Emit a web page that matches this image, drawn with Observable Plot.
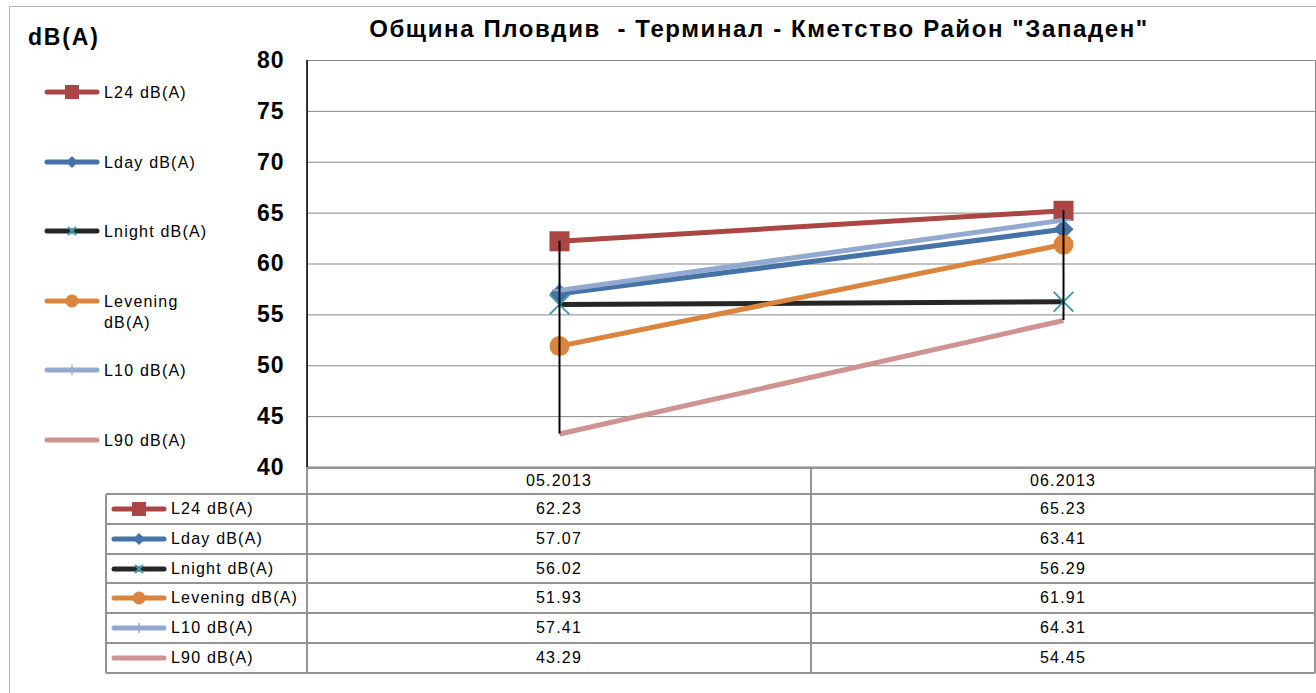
<!DOCTYPE html>
<html>
<head>
<meta charset="utf-8">
<script src="https://cdn.jsdelivr.net/npm/d3@7"></script>
<script src="https://cdn.jsdelivr.net/npm/@observablehq/plot@0.6"></script>
<style>
  body { margin: 0; background: #fff; }
  #wrap { position: relative; width: 1316px; height: 693px; overflow: hidden; font-family: Arial, "Liberation Sans", sans-serif; background: #fff; color: #000; }
  #wrap svg.plotsvg { position: absolute; left: 0; top: 0; }
  .abs { position: absolute; white-space: pre; }
</style>
</head>
<body>
<div id="wrap"></div>
<script>
// ---- data ----
const categories = ["05.2013", "06.2013"];
const seriesNames = ["L24 dB(A)", "Lday dB(A)", "Lnight dB(A)", "Levening dB(A)", "L10 dB(A)", "L90 dB(A)"];
const L24 = [62.23, 65.23];
const Lday = [57.07, 63.41];
const Lnight = [56.02, 56.29];
const Levening = [51.93, 61.91];
const L10 = [57.41, 64.31];
const L90 = [43.29, 54.45];
const yTicks = [40, 45, 50, 55, 60, 65, 70, 75, 80];
const titleText = "Община Пловдив  - Терминал - Кметство Район \"Западен\"";
const yTitle = "dB(A)";

// ---- styles ----
const seriesValues = [L24, Lday, Lnight, Levening, L10, L90];
const lineColors = ["#AA4643", "#4572A7", "#262626", "#DB843D", "#93A9CF", "#D19392"];
const markerColors = ["#AA4643", "#4572A7", "#4198AF", "#DB843D", "#93A9CF", null];
const markerSymbols = ["square", "diamond2", "times", "circle", "plus", null];
const markerR = [11.3, 9, 9, 10, 5, 0];

const rows = seriesNames.flatMap((s, i) => categories.map((c, j) => ({series: s, cat: c, value: seriesValues[i][j]})));
const hiLo = categories.map((c, j) => ({
  cat: c,
  hi: d3.max(seriesValues, v => v[j]),
  lo: d3.min(seriesValues, v => v[j])
}));

const marks = [
  Plot.ruleY(yTicks.slice(1), {stroke: "#878787", strokeWidth: 1}),
  Plot.frame({stroke: "#878787"}),
  Plot.ruleY([yTicks[0]], {stroke: "#000", strokeWidth: 1.5}),
  (index, scales, values, dims) => {
    const l = d3.create("svg:line")
      .attr("x1", dims.marginLeft).attr("x2", dims.marginLeft)
      .attr("y1", dims.marginTop).attr("y2", dims.height - dims.marginBottom)
      .attr("stroke", "#000").attr("stroke-width", 1.5);
    return l.node();
  },
  Plot.axisY({ticks: yTicks, tickSize: 0, tickPadding: 23, fontSize: 23, fontWeight: "bold", label: null})
];
seriesNames.forEach((s, i) => {
  const sub = rows.filter(d => d.series === s);
  marks.push(Plot.line(sub, {x: "cat", y: "value", stroke: lineColors[i], strokeWidth: 5, strokeLinecap: "butt"}));
  const sym = markerSymbols[i];
  if (sym) {
    const stroked = sym === "times" || sym === "plus";
    marks.push(Plot.dot(sub, stroked
      ? {x: "cat", y: "value", symbol: sym, r: markerR[i], stroke: markerColors[i], strokeWidth: 2, fill: "none"}
      : {x: "cat", y: "value", symbol: sym, r: markerR[i], fill: markerColors[i], stroke: "none"}));
  }
});
marks.push(Plot.ruleX(hiLo, {x: "cat", y1: "lo", y2: "hi", stroke: "#000", strokeWidth: 2}));

const chart = Plot.plot({
  width: 1316,
  height: 693,
  marginLeft: 307,
  marginRight: 1,
  marginTop: 60,
  marginBottom: 226,
  style: {fontFamily: "Arial, 'Liberation Sans', sans-serif", color: "#000", background: "transparent", letterSpacing: "1px"},
  x: {type: "point", domain: categories, padding: 0.5, axis: null},
  y: {domain: [yTicks[0], yTicks[yTicks.length - 1]]},
  marks
});
chart.classList.add("plotsvg");
const wrap = document.getElementById("wrap");
wrap.appendChild(chart);

const xs = chart.scale("x");

function addDiv(html, css) {
  const d = document.createElement("div");
  d.className = "abs";
  d.innerHTML = html;
  Object.assign(d.style, css);
  wrap.appendChild(d);
  return d;
}
function addText(text, css) {
  const d = document.createElement("div");
  d.className = "abs";
  d.textContent = text;
  Object.assign(d.style, css);
  wrap.appendChild(d);
  return d;
}

// swatch svg
function swatch(i) {
  const w = 56, h = 20, cy = 10, cx = 28;
  let m = "";
  const c = markerColors[i];
  switch (markerSymbols[i]) {
    case "square": m = `<rect x="${cx-7}" y="${cy-7}" width="14" height="14" fill="${c}"/>`; break;
    case "diamond2": m = `<path d="M${cx},${cy-6}L${cx+6},${cy}L${cx},${cy+6}L${cx-6},${cy}Z" fill="${c}"/>`; break;
    case "times": m = `<path d="M${cx-4},${cy-4}L${cx+4},${cy+4}M${cx-4},${cy+4}L${cx+4},${cy-4}" stroke="${c}" stroke-width="2"/>`; break;
    case "circle": m = `<circle cx="${cx}" cy="${cy}" r="6.5" fill="${c}"/>`; break;
    case "plus": m = `<path d="M${cx},${cy-5}L${cx},${cy+5}" stroke="${c}" stroke-width="1.5"/>`; break;
  }
  return `<svg width="${w}" height="${h}" style="display:block"><line x1="3" x2="${w-3}" y1="${cy}" y2="${cy}" stroke="${lineColors[i]}" stroke-width="5" stroke-linecap="round"/>${m}</svg>`;
}

const txt = {fontSize: "16px", letterSpacing: "1.2px", lineHeight: "21px"};

// outer frame
addDiv("", {left: "9px", top: "6px", width: "1400px", height: "800px", border: "1px solid #b5b5b5", pointerEvents: "none"});

// title
addText(titleText, {left: "0px", width: "1518px", top: "15px", textAlign: "center", fontSize: "24px", fontWeight: "bold", lineHeight: "28px", letterSpacing: "1.6px"});
addText(yTitle, {left: "28px", top: "24px", fontSize: "23px", fontWeight: "bold", lineHeight: "26px", letterSpacing: "1.8px"});

// left legend
const legendY = [92, 162, 231, 301, 370, 440];
seriesNames.forEach((s, i) => {
  addDiv(swatch(i), {left: "44px", top: (legendY[i] - 10) + "px"});
  const label = s === "Levening dB(A)" ? "Levening\ndB(A)" : s;
  addText(label, Object.assign({left: "104px", top: (legendY[i] - 10) + "px"}, txt));
});

// data table
const colX = [106, xs.range[0], (xs.apply(categories[0]) + xs.apply(categories[1])) / 2, xs.range[1]];
const headTop = 467, rowTop = 494, rowH = 29.83;
const lineColor = "#949494";
function hline(x1, x2, y) { addDiv("", {left: x1 + "px", top: (y - 1) + "px", width: (x2 - x1) + "px", height: "2px", background: lineColor}); }
function vline(x, y1, y2) { addDiv("", {left: (x - 1) + "px", top: y1 + "px", width: "2px", height: (y2 - y1) + "px", background: lineColor}); }
const tableBottom = rowTop + rowH * seriesNames.length;
hline(colX[1], colX[3], headTop + 1);
for (let r = 0; r <= seriesNames.length; r++) hline(colX[0], colX[3], rowTop + r * rowH);
vline(colX[0], rowTop, tableBottom);
vline(colX[1], headTop, tableBottom);
vline(colX[2], headTop, tableBottom);
vline(colX[3], headTop, tableBottom);
categories.forEach(c => {
  addText(c, Object.assign({left: (xs.apply(c) - 100) + "px", width: "200px", textAlign: "center", top: (headTop + 3) + "px"}, txt));
});
seriesNames.forEach((s, i) => {
  const cy = rowTop + i * rowH + rowH / 2;
  addDiv(swatch(i), {left: "111px", top: (cy - 10) + "px"});
  addText(s, Object.assign({left: "171px", top: (cy - 11) + "px"}, txt));
  categories.forEach((c, j) => {
    addText(seriesValues[i][j].toFixed(2), Object.assign({left: (xs.apply(c) - 100) + "px", width: "200px", textAlign: "center", top: (cy - 11) + "px"}, txt));
  });
});
</script>
</body>
</html>
